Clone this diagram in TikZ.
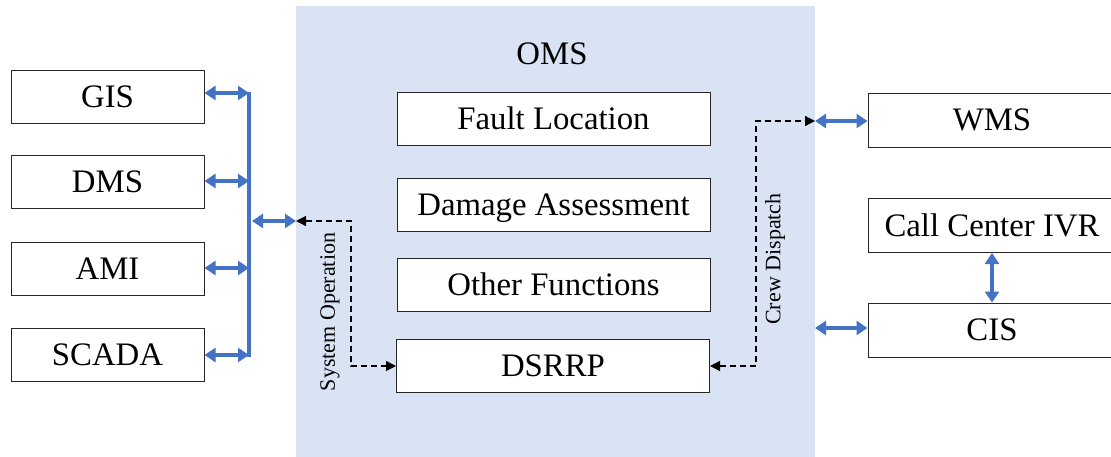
\documentclass[tikz,border=0pt]{standalone}
\usepackage{fontspec}
\setmainfont{Liberation Serif}
\usetikzlibrary{arrows.meta}
\definecolor{omsbg}{HTML}{DAE3F3}
\definecolor{linkblue}{HTML}{4472C4}
\begin{document}
\begin{tikzpicture}[x=1pt,y=-1pt,
  sysbox/.style={draw=black!85,line width=1pt,fill=white,inner sep=0pt,
    text height=21.6pt,text depth=0pt,
    font=\fontsize{32.8}{38}\selectfont},
  leftbox/.style={sysbox,minimum width=193pt,minimum height=53pt},
  funcbox/.style={sysbox,minimum width=313pt,minimum height=53pt},
  rightbox/.style={sysbox,minimum width=248pt,minimum height=54pt},
  blink/.style={draw=linkblue,line width=3.2pt,
    {Triangle[length=11pt,width=14pt]}-{Triangle[length=11pt,width=14pt]}},
  dlink/.style={draw=black,line width=1.3pt,dash pattern=on 6pt off 4pt,
    {Triangle[length=10pt,width=10pt]}-{Triangle[length=10pt,width=10pt]}},
  vlabel/.style={rotate=90,inner sep=0pt,font=\fontsize{22}{26}\selectfont}]
\useasboundingbox (0,0) rectangle (1111,456);
\clip (0,0) rectangle (1111,456);

% OMS area
\fill[omsbg] (296,6) rectangle (815,460);
\node[font=\fontsize{32.8}{38}\selectfont,inner sep=0pt,text height=21.6pt,text depth=0pt]
  (omstitle) at (552,54) {OMS};

% external systems on the left
\node[leftbox] (gis)   at (107.5,96.5) {GIS};
\node[leftbox] (dms)   at (107.5,182)  {DMS};
\node[leftbox] (ami)   at (107.5,269)  {AMI};
\node[leftbox] (scada) at (107.5,355)  {SCADA};

% OMS functions
\node[funcbox] (fault)  at (553.5,118.5) {Fault Location};
\node[funcbox] (damage) at (553.5,204.5) {Damage Assessment};
\node[funcbox] (other)  at (553.5,285)   {Other Functions};
\node[funcbox] (dsrrp)  at (553,366)     {DSRRP};

% external systems on the right
\node[rightbox] (wms)  at (992,120)   {WMS};
\node[rightbox] (call) at (992,225.5) {Call Center IVR};
\node[rightbox] (cis)  at (992,330)   {CIS};

% integration bus on the left
\coordinate (btop) at (249,91.5);
\coordinate (bbot) at (249,356.5);
\draw[linkblue,line width=3.2pt] (btop) -- (bbot);
\coordinate (b1) at (249,93);
\coordinate (b2) at (249,181);
\coordinate (b3) at (249,268);
\coordinate (b4) at (249,355);
\draw[blink] (gis.east |- b1) -- (b1);
\draw[blink] (dms.east |- b2) -- (b2);
\draw[blink] (ami.east |- b3) -- (b3);
\draw[blink] (scada.east |- b4) -- (b4);

% links across the OMS boundary
\coordinate (bmid) at (252,221);
\coordinate (omsL) at (296,221);
\draw[blink] (bmid) -- (omsL);
\coordinate (omsR) at (815,121);
\coordinate (omsR2) at (815,328);
\draw[blink] (omsR) -- (wms.west |- omsR);
\draw[blink] (omsR2) -- (cis.west |- omsR2);
\draw[blink] (call.south) -- (cis.north);

% dispatch paths
\draw[dlink] (omsL) -- ++(55,0) |- (dsrrp.west);
\draw[dlink] (dsrrp.east) -- ++(46,0) |- (omsR);

\node[vlabel] (sysop) at (330,312) {System Operation};
\node[vlabel] (crew)  at (775,259) {Crew Dispatch};
\end{tikzpicture}
\end{document}
